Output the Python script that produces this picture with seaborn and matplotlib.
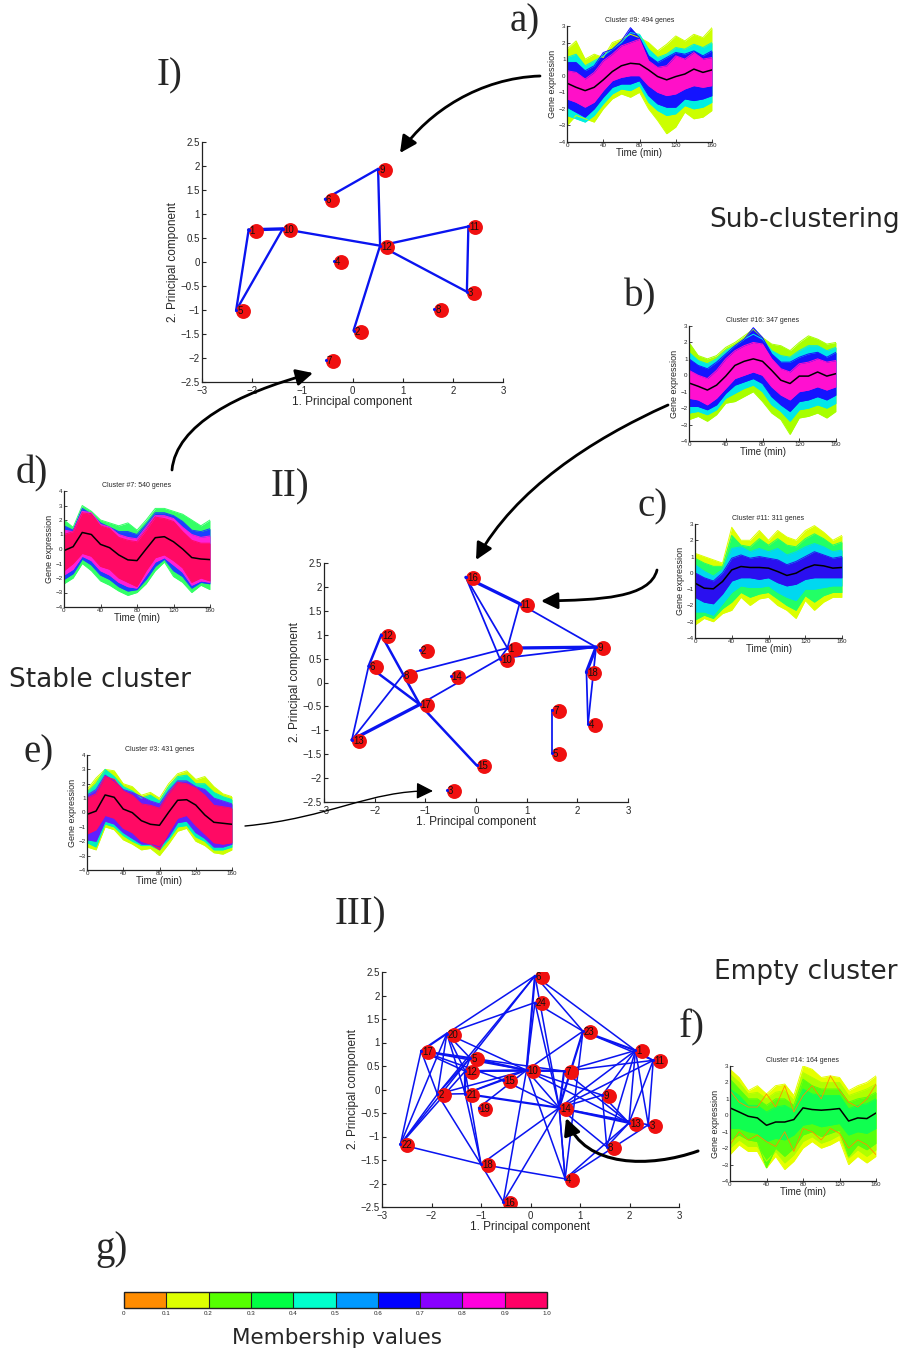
import matplotlib
matplotlib.use("Agg")
import matplotlib.pyplot as plt
import matplotlib.ticker as mticker
from matplotlib.colors import ListedColormap, BoundaryNorm
from matplotlib.patches import FancyArrowPatch
from matplotlib.path import Path
import matplotlib as mpl
import seaborn as sns

W, H = 906, 1351

# ---------------- data ----------------
time_min = [0, 10, 20, 30, 40, 50, 60, 70, 80, 90, 100, 110, 120, 130, 140, 150, 160]

# membership colour scale (0..1 in steps of 0.1)
member_colors = ['#FF8C00', '#DDFF00', '#55FF00', '#00FF44', '#00FFCC',
                 '#0099FF', '#0000FF', '#8800FF', '#FF00DD', '#FF0066']
member_ticks = [0, 0.1, 0.2, 0.3, 0.4, 0.5, 0.6, 0.7, 0.8, 0.9, 1.0]
member_labels = ['0', '0.1', '0.2', '0.3', '0.4', '0.5', '0.6', '0.7', '0.8', '0.9', '1.0']

# a) Cluster #9
a_mean = [-0.45, -0.7, -0.9, -0.7, -0.25, 0.25, 0.6, 0.75, 0.7, 0.35, -0.05, -0.25, -0.05, 0.1, 0.4, 0.2, 0.35]
a_hi1 = [1.6, 2.1, 1.0, 1.3, 1.1, 2.0, 2.2, 2.5, 2.3, 2.0, 1.5, 1.9, 2.4, 2.1, 2.5, 2.3, 2.9]
a_lo1 = [-3.0, -2.4, -2.6, -2.8, -2.0, -1.4, -1.1, -1.3, -1.0, -2.0, -2.7, -3.5, -3.1, -2.2, -2.6, -2.5, -2.1]
a_hi2 = [1.1, 1.3, 0.6, 0.9, 1.2, 1.6, 2.0, 2.6, 2.5, 1.6, 1.1, 1.3, 1.7, 1.6, 1.9, 1.7, 2.0]
a_lo2 = [-2.4, -2.6, -2.8, -2.4, -1.7, -1.1, -0.8, -0.9, -0.6, -1.6, -2.1, -2.4, -2.3, -1.8, -2.0, -1.9, -1.6]
a_hi3 = [0.8, 0.8, 0.3, 0.6, 1.4, 1.6, 2.1, 2.9, 2.3, 1.2, 0.8, 1.1, 1.4, 1.3, 1.5, 1.2, 1.5]
a_lo3 = [-1.9, -2.2, -2.5, -2.0, -1.3, -0.7, -0.5, -0.5, -0.3, -1.2, -1.7, -1.9, -1.9, -1.4, -1.5, -1.4, -1.2]
a_hi4 = [0.3, 0.2, -0.2, 0.2, 0.9, 1.3, 1.8, 2.0, 2.2, 0.9, 0.5, 0.6, 1.2, 1.0, 1.4, 1.0, 1.1]
a_lo4 = [-1.4, -1.6, -1.9, -1.6, -0.9, -0.3, -0.1, 0.0, 0.0, -0.6, -1.0, -1.2, -1.1, -0.8, -0.6, -0.7, -0.6]

# b) Cluster #16
b_mean = [-0.47, -0.67, -0.9, -0.6, -0.05, 0.6, 0.85, 1.0, 0.85, 0.3, -0.3, -0.5, -0.05, -0.05, 0.2, -0.05, 0.1]
b_hi1 = [2.0, 1.2, 1.0, 1.2, 1.7, 2.0, 2.4, 2.8, 2.3, 1.9, 1.8, 1.5, 2.0, 2.4, 2.2, 1.9, 2.0]
b_lo1 = [-2.7, -2.5, -2.8, -2.4, -1.7, -1.6, -1.3, -1.0, -1.6, -2.3, -2.7, -3.6, -2.6, -2.5, -2.3, -2.6, -2.2]
b_hi2 = [1.4, 0.9, 0.7, 1.0, 1.5, 1.8, 2.2, 2.5, 2.2, 1.5, 1.2, 1.1, 1.5, 1.8, 1.8, 1.5, 1.7]
b_lo2 = [-2.3, -2.2, -2.4, -2.1, -1.4, -1.1, -0.8, -0.6, -1.0, -1.8, -2.2, -2.8, -2.1, -2.0, -1.8, -2.0, -1.7]
b_hi3 = [1.0, 0.6, 0.4, 0.8, 1.3, 1.8, 2.2, 2.9, 2.3, 1.3, 0.8, 0.8, 1.1, 1.3, 1.4, 1.1, 1.4]
b_lo3 = [-1.9, -1.9, -2.1, -1.8, -1.1, -0.6, -0.4, -0.2, -0.5, -1.3, -1.8, -2.2, -1.6, -1.5, -1.3, -1.5, -1.2]
b_hi4 = [0.3, 0.0, -0.2, 0.3, 1.0, 1.5, 1.8, 2.0, 1.9, 1.0, 0.4, 0.2, 0.7, 0.8, 1.0, 0.8, 0.9]
b_lo4 = [-1.4, -1.5, -1.8, -1.4, -0.8, -0.2, 0.0, 0.2, 0.0, -0.7, -1.2, -1.5, -1.0, -0.9, -0.7, -0.9, -0.7]

# c) Cluster #11
c_mean = [-0.63, -0.94, -0.98, -0.53, 0.18, 0.39, 0.33, 0.33, 0.29, 0.08, -0.16, -0.02, 0.29, 0.49, 0.43, 0.29, 0.33]
c_hi1 = [1.2, 1.0, 0.8, 0.6, 2.8, 2.0, 2.0, 2.6, 2.0, 2.6, 2.2, 2.0, 2.6, 2.9, 2.5, 2.0, 2.3]
c_lo1 = [-3.2, -2.8, -3.0, -2.5, -2.3, -1.5, -2.0, -1.6, -1.5, -2.0, -2.3, -2.8, -1.7, -2.3, -1.8, -1.5, -1.5]
c_hi2 = [0.9, 0.6, 0.4, 0.4, 2.3, 1.7, 1.6, 2.1, 1.7, 2.1, 1.7, 1.6, 2.1, 2.4, 2.1, 1.7, 1.9]
c_lo2 = [-2.9, -2.6, -2.8, -2.2, -1.8, -1.2, -1.5, -1.3, -1.2, -1.6, -2.0, -2.3, -1.4, -1.8, -1.4, -1.2, -1.2]
c_hi3 = [0.5, 0.1, -0.2, 0.2, 1.5, 1.6, 1.3, 1.5, 1.3, 1.5, 1.1, 1.3, 1.6, 1.8, 1.6, 1.3, 1.4]
c_lo3 = [-2.4, -2.4, -2.6, -1.9, -1.2, -0.8, -0.9, -0.9, -0.8, -1.2, -1.5, -1.7, -1.0, -1.0, -0.9, -0.8, -0.8]
c_hi4 = [0.0, -0.3, -0.5, 0.0, 0.9, 1.1, 0.9, 1.0, 0.9, 0.8, 0.5, 0.7, 1.0, 1.3, 1.1, 0.9, 1.0]
c_lo4 = [-1.5, -1.8, -1.9, -1.3, -0.5, -0.3, -0.3, -0.4, -0.3, -0.6, -0.8, -0.7, -0.4, -0.3, -0.3, -0.3, -0.3]

# d) Cluster #7
d_mean = [-0.11, 0.16, 1.14, 1.0, 0.32, 0.09, -0.41, -0.75, -0.8, 0.0, 0.78, 0.85, 0.5, 0.0, -0.59, -0.69, -0.73]
d_hi1 = [2.0, 1.5, 3.0, 2.6, 2.0, 1.8, 1.6, 1.8, 1.3, 2.0, 2.8, 2.8, 2.6, 2.4, 2.0, 1.6, 2.0]
d_lo1 = [-2.4, -2.0, -1.0, -1.5, -2.2, -2.5, -2.9, -3.2, -3.0, -2.4, -1.5, -0.9, -1.9, -2.3, -3.0, -2.5, -2.8]
d_hi2 = [1.6, 1.3, 2.8, 2.4, 1.8, 1.5, 1.2, 1.2, 1.0, 1.7, 2.5, 2.5, 2.3, 1.9, 1.3, 1.2, 1.4]
d_lo2 = [-2.1, -1.7, -0.7, -1.1, -1.8, -2.1, -2.6, -2.9, -2.8, -2.1, -1.2, -0.7, -1.5, -1.9, -2.7, -2.3, -2.4]
d_hi3 = [1.3, 1.2, 2.6, 2.5, 1.7, 1.5, 1.0, 0.8, 0.7, 1.5, 2.3, 2.3, 2.1, 1.5, 1.0, 0.8, 0.9]
d_lo3 = [-1.8, -1.4, -0.5, -0.8, -1.5, -1.8, -2.3, -2.6, -2.7, -1.8, -0.9, -0.6, -1.1, -1.6, -2.5, -2.2, -2.3]
d_hi4 = [1.0, 1.2, 2.5, 2.4, 1.6, 1.4, 0.8, 0.6, 0.5, 1.3, 2.2, 2.1, 1.9, 1.2, 0.6, 0.4, 0.4]
d_lo4 = [-1.5, -1.0, -0.3, -0.5, -1.2, -1.4, -2.0, -2.3, -2.6, -1.5, -0.6, -0.4, -0.8, -1.3, -2.3, -2.0, -2.2]

# e) Cluster #3
e_mean = [-0.13, 0.1, 1.22, 1.06, 0.24, -0.01, -0.57, -0.82, -0.89, 0.01, 0.85, 0.89, 0.52, -0.17, -0.68, -0.75, -0.82]
e_hi1 = [1.6, 2.4, 3.0, 2.9, 2.0, 1.8, 1.2, 1.4, 1.0, 2.0, 2.7, 2.9, 2.3, 2.5, 1.8, 1.3, 1.1]
e_lo1 = [-2.4, -2.6, -1.0, -1.2, -1.9, -2.2, -2.6, -2.5, -3.0, -2.2, -1.3, -1.1, -2.0, -2.3, -2.8, -2.9, -2.6]
e_hi2 = [1.4, 2.0, 3.0, 2.5, 1.8, 1.5, 1.0, 1.2, 0.8, 1.8, 2.5, 2.6, 2.0, 2.0, 1.4, 1.1, 0.9]
e_lo2 = [-2.1, -2.4, -0.8, -1.0, -1.6, -2.0, -2.3, -2.3, -2.6, -1.9, -1.0, -0.9, -1.7, -2.0, -2.6, -2.6, -2.4]
e_hi3 = [1.2, 1.6, 2.6, 2.2, 1.6, 1.4, 1.1, 0.8, 0.6, 1.5, 2.2, 2.2, 1.8, 1.6, 1.0, 0.8, 0.6]
e_lo3 = [-1.9, -2.0, -0.6, -0.8, -1.4, -1.8, -2.2, -2.2, -2.4, -1.7, -0.7, -0.6, -1.4, -1.8, -2.4, -2.4, -2.2]
e_hi4 = [1.0, 1.3, 2.5, 2.3, 1.5, 1.2, 0.6, 0.5, 0.3, 1.3, 2.1, 2.0, 1.7, 1.2, 0.5, 0.4, 0.3]
e_lo4 = [-1.5, -1.2, -0.2, -0.4, -1.1, -1.4, -2.0, -2.2, -2.6, -1.4, -0.4, -0.2, -0.9, -1.5, -2.1, -2.2, -2.1]

# f) Cluster #14
f_mean = [0.45, 0.2, -0.06, -0.16, -0.61, -0.41, -0.41, -0.26, 0.45, 0.35, 0.31, 0.35, 0.41, -0.35, -0.16, -0.2, 0.14]
f_hi1 = [2.8, 2.3, 1.5, 1.8, 1.3, 1.8, 1.9, 1.2, 3.0, 2.8, 2.3, 2.4, 2.3, 1.5, 1.8, 2.0, 2.4]
f_lo1 = [-2.4, -1.8, -2.2, -2.2, -3.2, -2.5, -3.3, -2.8, -2.0, -1.6, -2.0, -1.8, -1.5, -3.0, -2.5, -2.9, -2.5]
f_hi2 = [2.5, 2.0, 1.3, 1.4, 1.0, 1.4, 1.5, 0.9, 2.6, 2.3, 2.0, 2.0, 2.0, 1.2, 1.4, 1.6, 1.9]
f_lo2 = [-2.0, -1.5, -1.9, -1.9, -2.8, -2.2, -2.9, -2.4, -1.6, -1.3, -1.7, -1.5, -1.2, -2.6, -2.1, -2.5, -2.1]
f_hi3 = [2.2, 1.6, 1.0, 1.0, 0.6, 1.0, 1.0, 0.6, 2.2, 1.8, 1.6, 1.6, 1.6, 0.8, 1.0, 1.1, 1.4]
f_lo3 = [-1.5, -1.2, -1.5, -1.6, -3.2, -2.0, -2.5, -2.0, -1.2, -1.0, -1.3, -1.1, -0.9, -2.5, -1.8, -2.1, -1.7]
f_hi4 = [1.6, 1.2, 0.6, 0.6, 0.2, 0.5, 0.6, 0.3, 1.6, 1.3, 1.2, 1.2, 1.2, 0.4, 0.6, 0.7, 1.0]
f_lo4 = [-0.8, -0.8, -1.0, -1.1, -1.6, -1.4, -1.5, -1.2, -0.6, -0.5, -0.7, -0.6, -0.5, -1.2, -1.0, -1.1, -0.8]
f_orange_hi = [1.5, 0.8, 0.5, 0.5, 1.3, 0.5, 1.8, 0.2, 1.2, 1.8, 1.0, 2.4, 1.5, 0.8, 0.5, 1.0, 1.9]
f_orange_lo = [-1.8, -1.0, -1.5, -1.2, -1.6, -1.9, -1.0, -2.2, -0.8, -1.0, -1.5, -0.8, -1.1, -2.0, -1.5, -1.8, -2.4]

# PCA of cluster centroids: I) 12 clusters, II) 18 clusters, III) 24 clusters
pca1_id = [1, 2, 3, 4, 5, 6, 7, 8, 9, 10, 11, 12]
pca1_x = [-2.07, 0.02, 2.28, -0.37, -2.32, -0.55, -0.53, 1.63, 0.51, -1.39, 2.31, 0.55]
pca1_y = [0.67, -1.43, -0.62, 0.03, -1.01, 1.31, -2.05, -0.97, 1.94, 0.69, 0.74, 0.34]
pca1_edges = [(1, 10, 2), (1, 5, 1), (5, 10, 1), (10, 12, 1), (6, 9, 1), (9, 12, 1),
              (12, 11, 1), (12, 3, 1), (11, 3, 1), (12, 2, 1)]

pca2_id = list(range(1, 19))
pca2_x = [0.62, -1.11, -0.58, 2.21, 1.50, -2.12, 1.50, -1.44, 2.37, 0.47, 0.86, -1.87,
          -2.45, -0.50, 0.01, -0.20, -1.11, 2.18]
pca2_y = [0.72, 0.67, -2.24, -0.87, -1.47, 0.34, -0.58, 0.16, 0.74, 0.50, 1.65, 1.00,
          -1.20, 0.14, -1.73, 2.20, -0.46, 0.22]
pca2_edges = [(16, 11, 3), (16, 1, 1), (16, 10, 1), (11, 1, 1), (11, 9, 1), (1, 9, 3),
              (10, 9, 1), (1, 10, 1), (10, 17, 1), (8, 1, 1), (12, 6, 2), (12, 17, 2),
              (6, 17, 2), (6, 13, 1), (13, 17, 3), (13, 8, 1), (17, 15, 2), (9, 18, 3),
              (9, 4, 1), (18, 4, 1), (7, 5, 1)]

pca3_id = list(range(1, 25))
pca3_x = [2.12, -1.88, 2.38, 0.70, -1.22, 0.09, 0.68, 1.54, 1.45, -0.08, 2.48, -1.32,
          1.99, 0.58, -0.55, -0.55, -2.21, -1.00, -1.05, -1.69, -1.32, -2.63, 1.06, 0.09]
pca3_y = [0.83, -0.10, -0.75, -1.90, 0.67, 2.42, 0.39, -1.22, -0.12, 0.41, 0.62, 0.39,
          -0.71, -0.39, 0.20, -2.39, 0.82, -1.59, -0.39, 1.19, -0.09, -1.17, 1.24, 1.85]
pca3_edges = [(6, 20, 1), (6, 5, 1), (6, 10, 2), (6, 14, 1), (6, 23, 1), (6, 1, 1), (6, 2, 1),
              (24, 20, 1), (24, 23, 1), (24, 10, 1), (24, 14, 1), (20, 17, 2), (20, 5, 1),
              (20, 12, 1), (20, 2, 1), (20, 21, 1), (20, 10, 1), (20, 22, 1), (17, 5, 2),
              (17, 10, 1), (17, 2, 1), (17, 22, 1), (17, 12, 1), (5, 10, 2), (5, 7, 1),
              (5, 12, 1), (5, 2, 1), (5, 22, 1), (12, 10, 2), (12, 22, 1), (12, 21, 2),
              (12, 18, 1), (12, 7, 1), (10, 7, 2), (10, 14, 1), (10, 9, 1), (10, 13, 1),
              (10, 4, 1), (10, 19, 1), (10, 21, 1), (10, 2, 1), (7, 1, 1), (7, 11, 1),
              (7, 14, 2), (7, 13, 1), (15, 14, 1), (15, 21, 1), (15, 17, 1), (2, 22, 1),
              (2, 18, 1), (2, 21, 1), (21, 14, 2), (21, 18, 1), (14, 9, 1), (14, 13, 2),
              (14, 1, 1), (14, 11, 1), (14, 16, 1), (14, 18, 1), (14, 4, 1), (14, 23, 2),
              (14, 3, 1), (23, 1, 2), (23, 11, 1), (23, 10, 1), (23, 4, 1), (1, 11, 1),
              (1, 13, 1), (1, 3, 1), (1, 9, 1), (1, 8, 1), (11, 3, 1), (11, 13, 1),
              (9, 13, 1), (9, 8, 1), (13, 4, 1), (13, 8, 1), (3, 4, 1), (22, 18, 1),
              (18, 4, 1), (16, 10, 1), (16, 18, 1), (4, 14, 1), (8, 14, 1)]

# ---------------- style ----------------
sns.set_theme(style="ticks")
plt.rcParams['font.family'] = ['Liberation Sans', 'DejaVu Sans']
plt.rcParams['xtick.direction'] = 'in'
plt.rcParams['ytick.direction'] = 'in'
plt.rcParams['axes.edgecolor'] = '#222222'
plt.rcParams['axes.linewidth'] = 0.9

fig = plt.figure(figsize=(W / 100, H / 100), dpi=100)


def px_axes(x0, y0, x1, y1):
    return fig.add_axes([x0 / W, 1 - y1 / H, (x1 - x0) / W, (y1 - y0) / H])


def minus_fmt(v, pos):
    return f"{v:g}".replace('-', '\u2212')


def pca_panel(box, ids, xs, ys, edges, lw_base):
    ax = px_axes(*box)
    pos = {i: (x, y) for i, x, y in zip(ids, xs, ys)}
    for a, b, w in edges:
        ax.plot([pos[a][0], pos[b][0]], [pos[a][1], pos[b][1]], color='#0A14F0',
                lw=lw_base * (0.8 + 0.6 * w), solid_capstyle='round', zorder=1)
    sns.scatterplot(x=[x + 0.14 for x in xs], y=[y - 0.02 for y in ys], color='#F01010',
                    s=115, edgecolor='#F01010', linewidth=0, ax=ax, zorder=2)
    sns.scatterplot(x=xs, y=ys, color='#0A14F0', s=5, linewidth=0, ax=ax, zorder=3)
    for i, x, y in zip(ids, xs, ys):
        ax.text(x + 0.02, y - 0.02, str(i), fontsize=7, ha='left', va='center',
                color='#111111', zorder=5)
    ax.set_xlim(-3, 3)
    ax.set_ylim(-2.5, 2.5)
    ax.set_xticks([-3, -2, -1, 0, 1, 2, 3])
    ax.set_yticks([-2.5, -2, -1.5, -1, -0.5, 0, 0.5, 1, 1.5, 2, 2.5])
    ax.xaxis.set_major_formatter(mticker.FuncFormatter(minus_fmt))
    ax.yaxis.set_major_formatter(mticker.FuncFormatter(minus_fmt))
    ax.tick_params(axis='x', labelsize=7, length=3, width=0.8, pad=3)
    ax.tick_params(axis='y', labelsize=7, length=3, width=0.8, pad=1.5)
    ax.set_xlabel('1. Principal component', fontsize=8.5, labelpad=0)
    ax.set_ylabel('2. Principal component', fontsize=8.5, labelpad=1)
    ax.set_facecolor('none')
    sns.despine(ax=ax)
    return ax


def profile_panel(box, mean, bands, title, ymin, ymax, extra=None):
    ax = px_axes(*box)
    for color, hi, lo in bands:
        ax.fill_between(time_min, lo, hi, color=color, lw=0)
        ax.plot(time_min, hi, color=color, lw=0.7)
        ax.plot(time_min, lo, color=color, lw=0.7)
    if extra:
        for color, line in extra:
            ax.plot(time_min, line, color=color, lw=0.6)
    sns.lineplot(x=time_min, y=mean, color='black', lw=1.1, ax=ax)
    ax.set_xlim(0, 160)
    ax.set_ylim(ymin, ymax)
    ax.set_xticks([0, 40, 80, 120, 160])
    ax.set_yticks(list(range(ymin, ymax + 1)))
    ax.yaxis.set_major_formatter(mticker.FuncFormatter(minus_fmt))
    ax.tick_params(labelsize=4.5, length=2, width=0.6, pad=1)
    ax.set_title(title, fontsize=5, pad=3)
    ax.set_xlabel('Time (min)', fontsize=7, labelpad=0)
    ax.set_ylabel('Gene expression', fontsize=6.5, labelpad=1)
    ax.set_facecolor('none')
    sns.despine(ax=ax)
    return ax


# ---------------- PCA panels ----------------
pca_panel((202, 142, 503, 382), pca1_id, pca1_x, pca1_y, pca1_edges, 1.2)
pca_panel((324, 563, 628, 802), pca2_id, pca2_x, pca2_y, pca2_edges, 0.9)
pca_panel((382, 972, 679, 1207), pca3_id, pca3_x, pca3_y, pca3_edges, 0.8)

# ---------------- cluster profiles ----------------
profile_panel((567, 26, 712, 142), a_mean,
              [('#CCFF00', a_hi1, a_lo1), ('#00F0E0', a_hi2, a_lo2),
               ('#1414FF', a_hi3, a_lo3), ('#FF10C8', a_hi4, a_lo4)],
              'Cluster #9: 494 genes', -4, 3)
profile_panel((689, 326, 836, 441), b_mean,
              [('#A8FF00', b_hi1, b_lo1), ('#00E8E8', b_hi2, b_lo2),
               ('#1414FF', b_hi3, b_lo3), ('#FF10D0', b_hi4, b_lo4)],
              'Cluster #16: 347 genes', -4, 3)
profile_panel((695, 524, 842, 638), c_mean,
              [('#DDFF00', c_hi1, c_lo1), ('#22FF66', c_hi2, c_lo2),
               ('#00D8F0', c_hi3, c_lo3), ('#2A10F0', c_hi4, c_lo4)],
              'Cluster #11: 311 genes', -4, 3)
profile_panel((64, 491, 210, 607), d_mean,
              [('#33FF66', d_hi1, d_lo1), ('#1A40FF', d_hi2, d_lo2),
               ('#FF20D8', d_hi3, d_lo3), ('#FF0A64', d_hi4, d_lo4)],
              'Cluster #7: 540 genes', -4, 4)
profile_panel((87, 755, 232, 870), e_mean,
              [('#CCFF00', e_hi1, e_lo1), ('#00F0C0', e_hi2, e_lo2),
               ('#6020FF', e_hi3, e_lo3), ('#FF0A64', e_hi4, e_lo4)],
              'Cluster #3: 431 genes', -4, 4)
profile_panel((730, 1066, 876, 1181), f_mean,
              [('#E6FF00', f_hi1, f_lo1), ('#B0FF00', f_hi2, f_lo2),
               ('#55FF10', f_hi3, f_lo3), ('#10FF50', f_hi4, f_lo4)],
              'Cluster #14: 164 genes', -4, 3,
              extra=[('#FF8C00', f_orange_hi), ('#FF8C00', f_orange_lo)])

# ---------------- membership colourbar ----------------
cax = px_axes(124, 1292, 547, 1308)
cmap = ListedColormap(member_colors)
norm = BoundaryNorm(member_ticks, cmap.N)
cb = mpl.colorbar.ColorbarBase(cax, cmap=cmap, norm=norm, orientation='horizontal',
                               ticks=member_ticks, drawedges=True)
cb.set_ticklabels(member_labels)
cb.outline.set_linewidth(1.0)
cb.dividers.set_linewidth(0.8)
cax.tick_params(labelsize=4.5, length=0, pad=2)
fig.text(337 / W, 1 - 1338 / H, 'Membership values', fontsize=15.5, family='DejaVu Sans',
         ha='center', va='center')

# ---------------- panel letters ----------------
serif = ['Liberation Serif', 'DejaVu Serif']
for s, x, y in [('a)', 525, 22), ('I)', 170, 76), ('b)', 640, 297), ('c)', 653, 507),
                ('d)', 32, 474), ('II)', 290, 487), ('e)', 39, 753), ('III)', 360, 915),
                ('f)', 692, 1028), ('g)', 112, 1250)]:
    fig.text(x / W, 1 - y / H, s, fontsize=28, family=serif, ha='center', va='center')

for s, x, y in [('Sub-clustering', 805, 220), ('Stable cluster', 100, 680),
                ('Empty cluster', 806, 972)]:
    fig.text(x / W, 1 - y / H, s, fontsize=19, family='DejaVu Sans', ha='center', va='center')

# ---------------- curved arrows (pixel coordinates) ----------------
arrows = [
    [(540, 76), (480, 78), (428, 112), (400, 153), 2.0],
    [(172, 470), (176, 425), (238, 393), (313, 373), 2.0],
    [(668, 405), (590, 440), (515, 490), (476, 560), 2.0],
    [(657, 570), (650, 598), (600, 600), (541, 601), 2.0],
    [(245, 826), (330, 818), (370, 790), (433, 791), 1.0],
    [(698, 1151), (650, 1168), (585, 1168), (566, 1118), 2.2],
]
for p0, c1, c2, p3, lw in arrows:
    verts = [(x / W, 1 - y / H) for x, y in (p0, c1, c2, p3)]
    path = Path(verts, [Path.MOVETO, Path.CURVE4, Path.CURVE4, Path.CURVE4])
    arr = FancyArrowPatch(path=path, arrowstyle='-|>,head_length=10,head_width=5',
                          lw=lw, color='black', transform=fig.transFigure,
                          mutation_scale=1)
    fig.add_artist(arr)

fig.savefig('out.png', dpi=100)
